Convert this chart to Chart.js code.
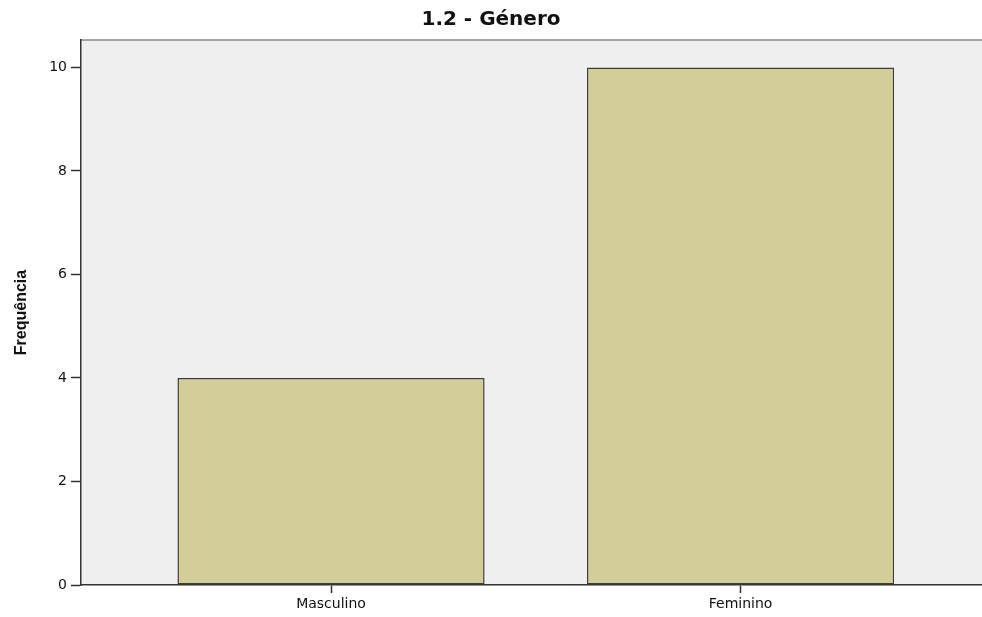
<!DOCTYPE html>
<html>
<head>
<meta charset="utf-8">
<script src="https://cdn.jsdelivr.net/npm/chart.js@4"></script>
<style>
  html, body { margin: 0; padding: 0; background: #ffffff; }
  #wrap { width: 982px; height: 617px; }
</style>
</head>
<body>
<div id="wrap"><canvas id="c"></canvas></div>
<script>
const categories = ['Masculino', 'Feminino'];
const frequencies = [4, 10];
const yTicks = [0, 2, 4, 6, 8, 10];
const chartTitle = '1.2 - Género';
const yTitle = 'Frequência';

const points = categories.map((c, i) => ({ x: i, y: frequencies[i] }));

const plotBg = {
  id: 'plotBg',
  beforeDraw(chart) {
    const { ctx, chartArea: a } = chart;
    ctx.save();
    ctx.fillStyle = '#efefef';
    ctx.fillRect(a.left, a.top, a.right - a.left, a.bottom - a.top);
    ctx.strokeStyle = '#8a8a8a';
    ctx.lineWidth = 1.5;
    ctx.beginPath();
    ctx.moveTo(a.left, a.top);
    ctx.lineTo(a.right, a.top);
    ctx.stroke();
    ctx.restore();
  }
};

new Chart(document.getElementById('c'), {
  type: 'bar',
  data: {
    datasets: [{
      data: points,
      backgroundColor: '#d3ce98',
      borderColor: '#3c3c3c',
      borderWidth: 1.5,
      borderSkipped: false,
      barPercentage: 0.75,
      categoryPercentage: 1
    }]
  },
  options: {
    responsive: true,
    maintainAspectRatio: false,
    animation: false,
    layout: { padding: 0 },
    plugins: {
      legend: { display: false },
      tooltip: { enabled: false },
      title: {
        display: true,
        text: chartTitle,
        color: '#111',
        font: { family: 'DejaVu Sans', size: 20, weight: 'bold', lineHeight: 1.2 },
        padding: { top: 8, bottom: 8 }
      }
    },
    scales: {
      x: {
        type: 'linear',
        offset: false,
        min: -0.6105,
        max: 1.5895,
        afterBuildTicks(scale) { scale.ticks = categories.map((c, i) => ({ value: i })); },
        afterFit(scale) { scale.height = 32; },
        ticks: {
          callback: (v) => categories[v],
          color: '#111',
          font: { family: 'DejaVu Sans', size: 14 },
          padding: 3,
          maxRotation: 0
        },
        grid: { offset: false, drawOnChartArea: false, tickLength: 8, tickColor: '#333', tickWidth: 1.5 },
        border: { color: '#333', width: 1.5 }
      },
      y: {
        min: 0,
        max: 10.53,
        afterBuildTicks(scale) { scale.ticks = yTicks.map(v => ({ value: v })); },
        afterFit(scale) { scale.width = 81; },
        ticks: {
          color: '#111',
          font: { family: 'DejaVu Sans', size: 14 },
          padding: 4
        },
        grid: { drawOnChartArea: false, tickLength: 10, tickColor: '#333', tickWidth: 1.5 },
        border: { color: '#333', width: 1.5 },
        title: {
          display: true,
          text: yTitle,
          color: '#111',
          font: { family: 'Liberation Sans', size: 16, weight: 'bold', lineHeight: 1.2 },
          padding: { top: 12, bottom: 0 }
        }
      }
    }
  },
  plugins: [plotBg]
});
</script>
</body>
</html>
